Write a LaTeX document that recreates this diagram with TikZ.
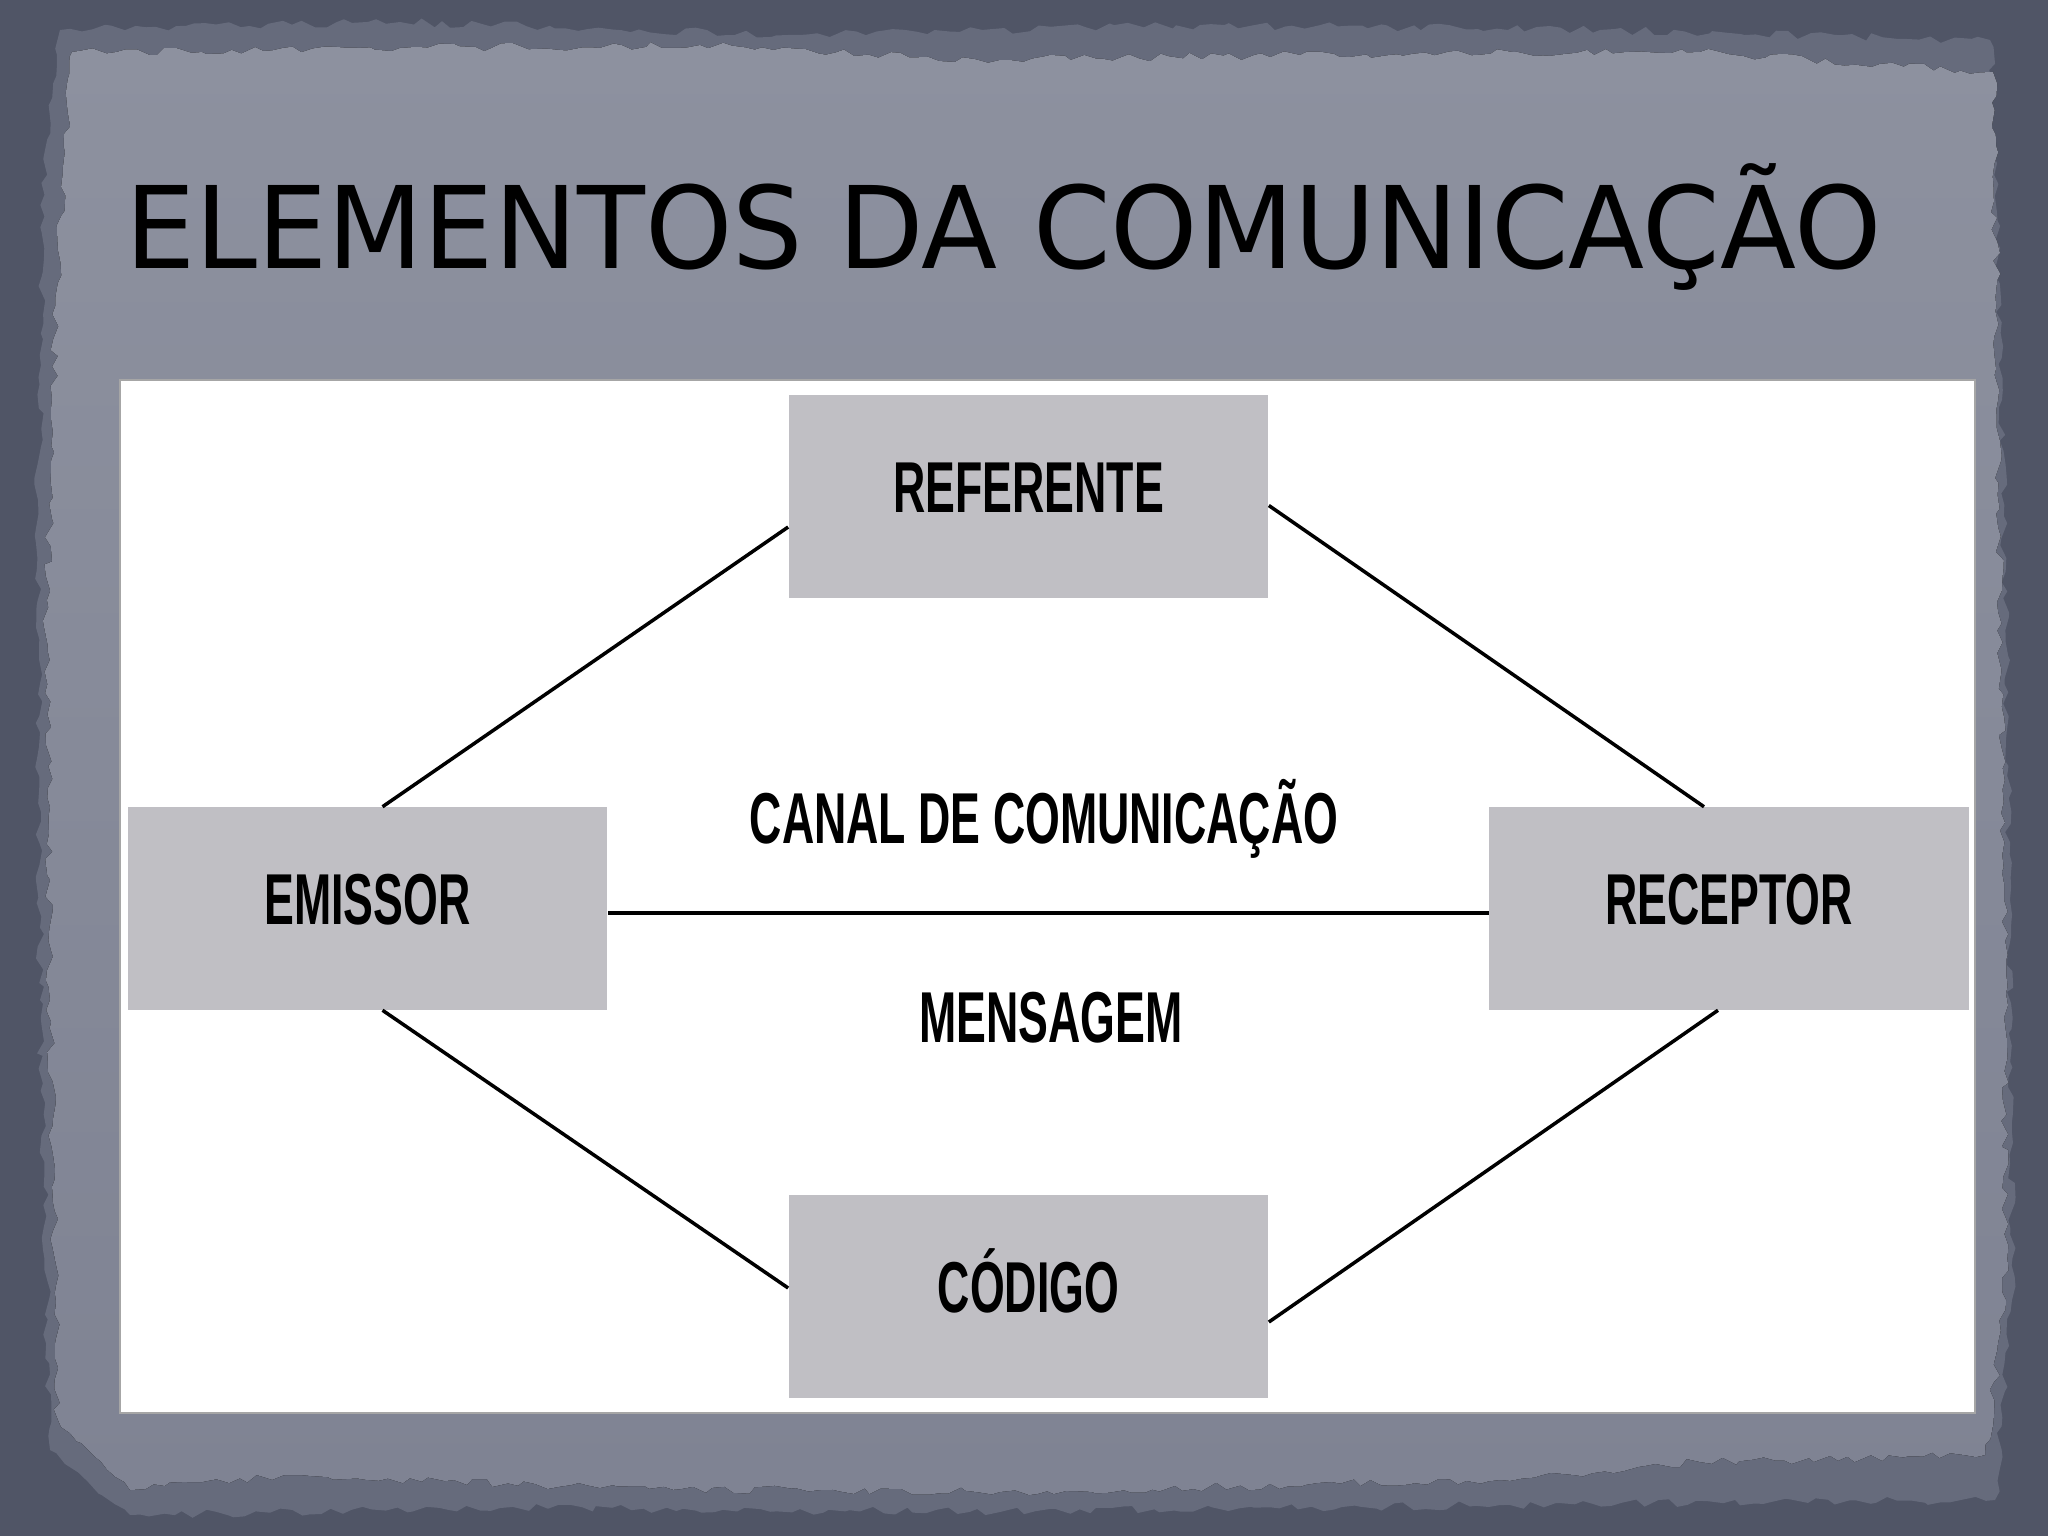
\documentclass[tikz,border=0pt]{standalone}
\usepackage{fontspec}
\usepackage{graphicx}
\usetikzlibrary{decorations.pathmorphing,calc}
\newfontfamily\titlefont{DejaVu Sans}
\newfontfamily\labfont{Liberation Sans}
\definecolor{framedark}{RGB}{80,85,102}
\definecolor{frameband}{RGB}{102,107,124}
\definecolor{parchtop}{RGB}{141,145,159}
\definecolor{parchbot}{RGB}{127,131,147}
\definecolor{boxgray}{RGB}{192,191,196}
\newcommand\labtext[1]{\scalebox{0.62}[1]{\labfont\bfseries\fontsize{20.5}{24}\selectfont #1}}
\begin{document}
\begin{tikzpicture}[x=0.01cm,y=-0.01cm,
  torn/.style={decorate,decoration={random steps,segment length=3pt,amplitude=1.2pt}},
  elembox/.style={fill=boxgray,minimum width=4.79cm,minimum height=2.02cm,inner sep=0pt,text height=0.52cm,text depth=0.2cm},
  midlabel/.style={inner sep=0pt,text height=0.516cm,text depth=0pt},
  link/.style={draw=black,line width=1pt},
  mainlink/.style={draw=black,line width=1.15pt}]
\pgfmathsetseed{7}
\useasboundingbox (0,0) rectangle (2048,1536);
% background frame
\fill[framedark] (0,0) rectangle (2048,1536);
\fill[frameband,torn] (60,30) -- (400,22) -- (800,35) -- (1200,25) -- (1600,30) -- (1990,40)
  -- (2002,400) -- (2010,900) -- (2012,1300) -- (1995,1500) -- (1500,1505) -- (1000,1512)
  -- (500,1508) -- (130,1515) -- (50,1450) -- (40,1000) -- (38,500) -- (45,150) -- cycle;
\fill[top color=parchtop,bottom color=parchbot,torn] (72,52) -- (400,48) -- (700,45) -- (1000,60) -- (1300,55) -- (1700,52) -- (1993,72)
  -- (1998,400) -- (2004,900) -- (2006,1300) -- (1985,1455) -- (1700,1462) -- (1500,1480) -- (1000,1492)
  -- (600,1488) -- (300,1475) -- (130,1490) -- (58,1420) -- (50,1000) -- (47,600) -- (58,250) -- cycle;
% title
\node[anchor=base west,inner sep=0pt] (title) at (125,268)
  {\scalebox{0.975}[1]{\titlefont\fontsize{32.4}{38}\selectfont ELEMENTOS DA COMUNICAÇÃO}};
% white panel
\fill[white,draw=gray!70,line width=0.4pt] (120,380) rectangle (1975,1413);
% boxes
\node[elembox] (ref) at (1028.5,496.5) {\labtext{REFERENTE}};
\node[elembox] (em) at (367.5,908.5) {\labtext{EMISSOR}};
\node[elembox] (rec) at (1729,908.5) {\labtext{RECEPTOR}};
\node[elembox] (cod) at (1028.5,1296.5) {\labtext{CÓDIGO}};
% middle labels
\node[midlabel] (canal) at (1044,818) {\labtext{CANAL DE COMUNICAÇÃO}};
\node[midlabel] (msg) at (1051,1017) {\labtext{MENSAGEM}};
% connectors
\draw[link] ([xshift=0.15cm]em.north) -- ([yshift=-0.305cm]ref.west);
\draw[link] ([yshift=-0.09cm]ref.east) -- ([xshift=-0.25cm]rec.north);
\draw[link] ([xshift=0.15cm]em.south) -- ([yshift=0.085cm]cod.west);
\draw[link] ([xshift=-0.11cm]rec.south) -- ([yshift=-0.255cm]cod.east);
\draw[mainlink] ([yshift=-0.045cm]em.east) -- ([yshift=-0.045cm]rec.west);
\end{tikzpicture}
\end{document}
